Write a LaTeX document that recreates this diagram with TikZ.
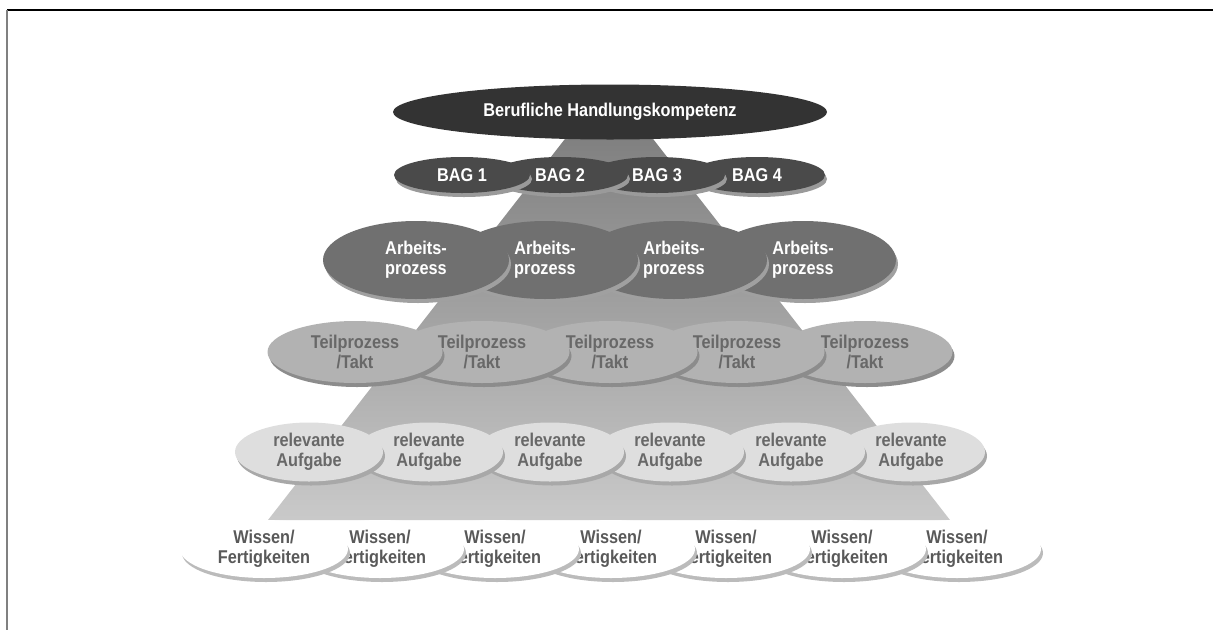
\documentclass[tikz,border=0pt]{standalone}
\usepackage{fontspec}
\setsansfont{Liberation Sans}[FakeStretch=0.88]
\usepackage{tikz}
\usetikzlibrary{shapes.geometric}

\definecolor{kompetenz}{HTML}{333333}
\definecolor{bag}{HTML}{4A4A4A}
\definecolor{bagrim}{HTML}{9A9A9A}
\definecolor{prozess}{HTML}{707070}
\definecolor{prozessrim}{HTML}{A0A0A0}
\definecolor{takt}{HTML}{B2B2B2}
\definecolor{taktrim}{HTML}{8C8C8C}
\definecolor{aufgabe}{HTML}{DEDEDE}
\definecolor{aufgaberim}{HTML}{A8A8A8}
\definecolor{wissen}{HTML}{FFFFFF}
\definecolor{wissenrim}{HTML}{BBBBBB}
\definecolor{greytext}{HTML}{686868}

\begin{document}
\begin{tikzpicture}[
                x=1pt, y=-1pt, % pixel-like coordinates, y downwards
                disc/.style={ellipse, inner sep=0pt, align=center, font=\sffamily\bfseries\fontsize{18.5}{20}\selectfont}, % one disc of a layer
                rim/.style={ellipse, inner sep=0pt} % lower edge of a disc
                ]
                \useasboundingbox (0,0) rectangle (1213,630);
                \draw[line width=1.5pt] (7,10) -- (1213,10);
                \draw[line width=2pt, gray] (7,10) -- (7,630);
                % pyramid behind the layers
                \shade[top color=black!50, middle color=black!31, bottom color=black!21] (568,135) -- (650,135) -- (950,520) -- (268,520) -- cycle;
                % top
                \node[disc, fill=kompetenz, text=white, minimum width=434, minimum height=55] (kompetenz) at (610,112) {Berufliche Handlungskompetenz};
                % BAG layer
                \foreach \x/\n in {757/4,657/3,560/2,462/1}{
                    \node[rim, fill=bagrim, minimum width=136, minimum height=36] at (\x+2,179) {};
                    \node[disc, fill=bag, text=white, minimum width=136, minimum height=36] (bag\n) at (\x,175) {BAG \n};
                }
                % Arbeitsprozess layer
                \foreach \x/\n in {803/4,674/3,545/2,416/1}{
                    \node[rim, fill=prozessrim, minimum width=186, minimum height=78] at (\x+2,264) {};
                    \node[disc, fill=prozess, text=white, minimum width=186, minimum height=78] (ap\n) at (\x,260) {Arbeits-\\prozess};
                }
                % Teilprozess layer
                \foreach \x/\n in {865/5,737/4,610/3,482/2,355/1}{
                    \node[rim, fill=taktrim, minimum width=175, minimum height=62] at (\x+2,356) {};
                    \node[disc, fill=takt, text=greytext, minimum width=175, minimum height=62] (tp\n) at (\x,352) {Teilprozess\\/Takt};
                }
                % Aufgaben layer
                \foreach \x/\n in {911/6,791/5,670/4,550/3,429/2,309/1}{
                    \node[rim, fill=aufgaberim, minimum width=148, minimum height=59] at (\x+2,456) {};
                    \node[disc, fill=aufgabe, text=greytext, minimum width=148, minimum height=59] (ra\n) at (\x,452) {relevante\\Aufgabe};
                }
                % Wissen layer
                \foreach \x/\n in {957/7,842/6,726/5,611/4,495/3,380/2,264/1}{
                    \node[rim, fill=wissenrim, minimum width=168, minimum height=58] at (\x+2,553) {};
                    \node[disc, fill=wissen, text=black!65, minimum width=168, minimum height=58] (wf\n) at (\x,549) {Wissen/\\Fertigkeiten};
                }
            \end{tikzpicture}
\end{document}
